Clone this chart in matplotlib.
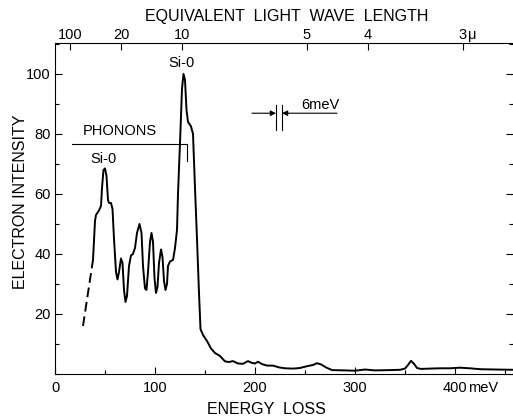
import numpy as np
import matplotlib as mpl
mpl.use('Agg')
import matplotlib.pyplot as plt
from matplotlib.ticker import MultipleLocator, FixedLocator

plt.rcParams['font.family'] = ['Liberation Sans', 'DejaVu Sans']
plt.rcParams['font.size'] = 10.5

# extrapolated (dashed) start of the spectrum
dash_energy = [28, 38]
dash_intensity = [16, 38]

# measured spectrum, energy loss (meV) vs electron intensity
energy = [38, 40, 41, 44, 46, 47, 48.5, 50, 51.5, 53, 54, 56, 57.5, 59, 61, 62.5,
          64, 66, 67.5, 69, 70.5, 72, 74, 76, 78, 80, 82, 84.5, 86.5, 88, 90, 91.5,
          93, 95, 96.5, 98, 99.5, 101, 102.5, 104, 106, 107.5, 109, 110.5, 112, 113,
          115, 118, 120, 122, 123, 125, 127, 128.5, 130, 131.5, 133, 136, 138, 140,
          142, 144, 145.5, 148, 152, 156, 160, 165, 170, 174, 178, 183, 188, 193,
          197, 200, 203, 207, 212, 218, 224, 230, 238, 245, 252, 258, 262, 266, 271,
          277, 290, 300, 310, 320, 335, 345, 350, 353, 356, 359, 362, 366, 375, 385,
          395, 405, 415, 425, 440, 458]
intensity = [38, 51, 53, 54.5, 56, 62, 68, 68.5, 66, 58, 57, 57, 55, 45, 34, 31.5,
             34, 38.5, 37, 28, 24, 26, 36, 39.5, 40, 42, 47, 50, 47, 36, 28.5, 28,
             34, 44, 47, 44, 32, 27, 29, 37, 41.5, 39, 31, 28, 30, 36,
             37.5, 38, 42, 48, 60, 77, 95, 100, 98, 88, 84, 82.5, 80, 62,
             45, 27, 15, 13, 11, 8.5, 7, 6, 4.2, 4, 4.3, 3.5, 3.4, 4.3,
             3.7, 3.5, 4.1, 3.3, 2.8, 2.8, 2.2, 1.9, 1.8, 2.0, 2.6, 3.0, 3.6, 3.2, 2.2,
             1.3, 1.2, 1.1, 1.5, 1.2, 1.3, 1.4, 1.8, 3.0, 4.4, 3.4, 2.0, 1.7, 1.8, 1.9,
             1.9, 2.1, 1.9, 1.6, 1.5, 1.4]

# top axis: equivalent wavelength (micron) and where it sits in meV
wave_labels = ['100', '20', '10', '5', '4', '3']
wave_energy = [15, 66, 127, 252, 313, 408]

bottom_ticks = [0, 100, 200, 300, 400]
left_ticks = [20, 40, 60, 80, 100]

fig = plt.figure(figsize=(5.13, 4.17), dpi=100)
ax = fig.add_axes([55/513, 43/417, 458/513, 331/417])

ax.plot(dash_energy, dash_intensity, color='k', lw=1.4, ls=(0, (5, 2.5)))
ax.plot(energy, intensity, color='k', lw=1.4)

ax.set_xlim(0, 458)
ax.set_ylim(0, 110.3)
ax.spines['right'].set_visible(False)
for s in ['left', 'bottom', 'top']:
    ax.spines[s].set_linewidth(0.8)

ax.xaxis.set_major_locator(FixedLocator(bottom_ticks))
ax.xaxis.set_minor_locator(MultipleLocator(50))
ax.yaxis.set_major_locator(FixedLocator(left_ticks))
ax.yaxis.set_minor_locator(MultipleLocator(10))
ax.tick_params(which='both', direction='in', right=True, width=0.8)
ax.tick_params(which='major', length=5)
ax.tick_params(which='minor', length=3)
ax.tick_params(axis='x', pad=5)
ax.tick_params(axis='y', pad=3)
ax.set_xticklabels([str(t) for t in bottom_ticks])
ax.text(413, -6.9/331, 'meV', transform=ax.get_xaxis_transform(), ha='left', va='top')

ax.set_xlabel('ENERGY  LOSS', fontsize=11.5)
ax.xaxis.set_label_coords(0.462, -0.0835)
ax.set_ylabel('ELECTRON INTENSITY', fontsize=11.5)
ax.yaxis.set_label_coords(-0.059, 0.52)

ax2 = ax.twiny()
ax2.set_xlim(ax.get_xlim())
ax2.set_xticks(wave_energy)
ax2.set_xticklabels(wave_labels)
ax2.tick_params(direction='in', length=5, width=0.8, pad=1)
for s in ax2.spines.values():
    s.set_visible(False)
ax2.text(wave_energy[-1] + 5, 1.0 + 1.4/331, '\u03bc', transform=ax2.get_xaxis_transform(),
         ha='left', va='bottom')
ax2.set_xlabel('EQUIVALENT  LIGHT  WAVE  LENGTH', fontsize=11.5)
ax2.xaxis.set_label_coords(0.506, 1.067)

# annotations
ax.text(126, 102.4, 'Si-0', ha='center', va='baseline')
ax.text(48, 71.7, 'Si-0', ha='center', va='center')
ax.text(65, 81, 'PHONONS', ha='center', va='center')
ax.plot([17, 132], [76.7, 76.7], color='k', lw=0.8)
ax.plot([132, 132], [76.7, 71], color='k', lw=0.8)

# 6 meV resolution marker
ax.plot([221, 221], [81.3, 89.7], color='k', lw=0.8)
ax.plot([227, 227], [81.3, 89.7], color='k', lw=0.8)
ax.annotate('', xy=(221, 86.9), xytext=(197, 86.9),
            arrowprops=dict(arrowstyle='-|>', color='k', lw=0.8, shrinkA=0, shrinkB=0,
                            mutation_scale=8))
ax.annotate('', xy=(227, 86.9), xytext=(282, 86.9),
            arrowprops=dict(arrowstyle='-|>', color='k', lw=0.8, shrinkA=0, shrinkB=0,
                            mutation_scale=8))
ax.text(246, 87.4, '6meV', ha='left', va='bottom')

fig.savefig('out.png', dpi=100)
